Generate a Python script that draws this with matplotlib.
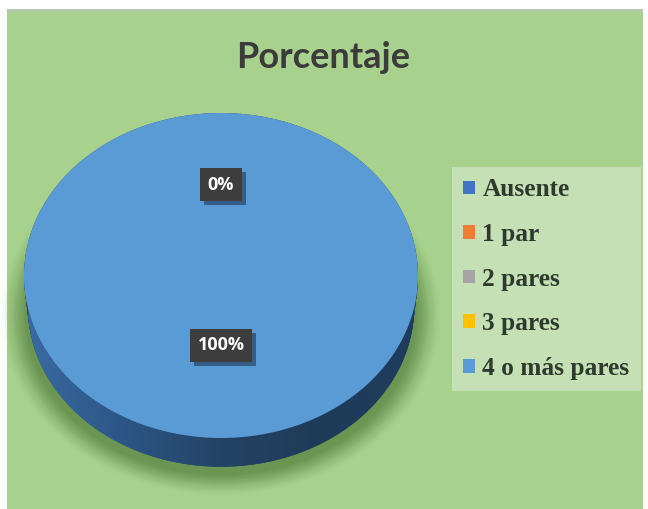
import numpy as np
import matplotlib
matplotlib.use("Agg")
import matplotlib.pyplot as plt
from matplotlib.patches import Rectangle, Ellipse, Polygon
from matplotlib.colors import LinearSegmentedColormap
import matplotlib.patheffects as pe

categories = ["Ausente", "1 par", "2 pares", "3 pares", "4 o más pares"]
values = [0, 0, 0, 0, 100]
colors = ["#4472c4", "#ed7d31", "#a5a5a5", "#ffc000", "#5b9bd5"]
title = "Porcentaje"

W, H = 648, 509
fig = plt.figure(figsize=(W / 100, H / 100), dpi=100)
fig.patch.set_facecolor("white")

# green chart area
fig.patches.append(Rectangle((7 / W, 0), 636 / W, 1 - 9 / H, transform=fig.transFigure,
                             facecolor="#a9d18e", edgecolor="none", zorder=-2))
fig.patches.append(Rectangle((7 / W, 1 - 12 / H), 636 / W, 3 / H, transform=fig.transFigure,
                             facecolor="#b4c8ad", edgecolor="none", zorder=-1))

# pie axes (top face spans x 24..418, y 113..438 px; side depth ~32 px)
depth = 32 / 162.5
left_px, right_px, top_px, bot_px = 24, 418, 113, 470
ax = fig.add_axes([left_px / W, 1 - bot_px / H, (right_px - left_px) / W, (bot_px - top_px) / H])
ax.patch.set_alpha(0)

# soft shadow
for i, a in enumerate(np.linspace(0.16, 0.03, 12)):
    s = 0.99 + 0.011 * i
    ax.add_patch(Ellipse((0.0, -depth - 0.05), 2 * s, 2 * s * 0.99, facecolor="#55803e",
                         alpha=a, edgecolor="none", zorder=0, clip_on=False))

# side of the 3D pie
side_colors = ["#274b72"] * len(values)
for off in np.linspace(depth, 0.0, 25):
    ax.pie(values, colors=side_colors, startangle=90, counterclock=False,
           center=(0, -off), radius=1.0 - 0.02 * off / depth)

# gradient on the side
t = np.linspace(np.pi, 2 * np.pi, 200)
rb = 0.98
bottom = np.column_stack([rb * np.cos(t), rb * np.sin(t) - depth])
topr = np.column_stack([np.cos(t[::-1]), np.sin(t[::-1])])
side_poly = Polygon(np.vstack([bottom, topr]), closed=True, facecolor="none", edgecolor="none")
ax.add_patch(side_poly)
cmap = LinearSegmentedColormap.from_list("side", ["#3a6ba3", "#2c5686", "#234364", "#1f3b5a", "#203d5d"])
grad = np.linspace(0, 1, 256).reshape(1, -1)
im = ax.imshow(grad, cmap=cmap, extent=(-1, 1, -1 - depth, 0), aspect="auto", zorder=2)
im.set_clip_path(side_poly)

# top face
wedges, texts, autotexts = ax.pie(values, colors=colors, startangle=90, counterclock=False,
                                  autopct="%1.0f%%", pctdistance=0.43,
                                  textprops=dict(color="white", fontsize=13, family="Open Sans",
                                                 fontweight="bold"),
                                  wedgeprops=dict(zorder=3))
for w in wedges:
    w.set_zorder(3)
first_zero = True
for v, at in zip(values, autotexts):
    x, y = at.get_position()
    r = np.hypot(x, y)
    if v == 0:
        at.set_position((x / r * 0.56, y / r * 0.56))
    at.set_zorder(5)
    at.set_bbox(dict(boxstyle="square,pad=0.42", facecolor="#3d3d3d", edgecolor="none"))
    if v != 0 or first_zero:
        at.get_bbox_patch().set_path_effects(
            [pe.SimplePatchShadow(offset=(3, -3), shadow_rgbFace="#1e3550", alpha=0.6), pe.Normal()])
    if v == 0:
        first_zero = False

ax.set_aspect("auto")
ax.set_xlim(-1, 1)
ax.set_ylim(-1 - depth, 1)
ax.axis("off")

fig.text(323 / W, 1 - 57 / H, title, ha="center", va="center", fontsize=26,
         fontweight="bold", color="#3b3b3b", family="Lato")

leg = fig.legend(wedges, categories, loc="upper left",
                 bbox_to_anchor=(452 / W, 1 - 167 / H), bbox_transform=fig.transFigure,
                 frameon=True, fancybox=False, framealpha=1, facecolor="#c5e0b4",
                 edgecolor="none", borderaxespad=0, borderpad=0.45,
                 handlelength=0.45, handleheight=0.45, handletextpad=0.3,
                 labelspacing=0.85,
                 prop=dict(family="Liberation Serif", weight="bold", size=18.3))
for txt in leg.get_texts():
    txt.set_color("#2e3a2e")

fig.savefig("out.png", dpi=100, facecolor=fig.get_facecolor())
